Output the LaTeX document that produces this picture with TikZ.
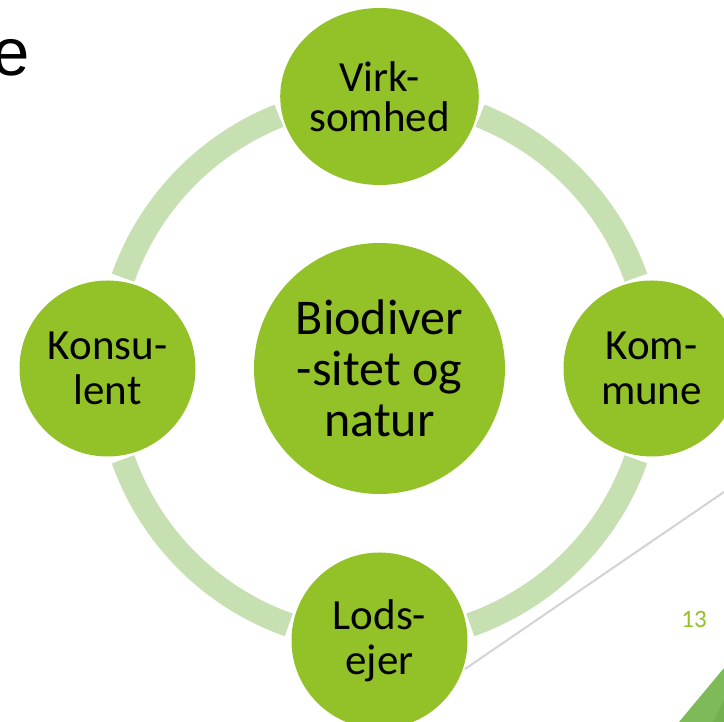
\documentclass[tikz,border=0pt]{standalone}
\usepackage{fontspec}
\setmainfont{Carlito}
\newfontfamily\titlefont{Liberation Sans}
\usetikzlibrary{shapes.geometric}
\definecolor{leafgreen}{HTML}{92C128}
\definecolor{ringgreen}{HTML}{C6E0B2}
\definecolor{slidegreen}{HTML}{7FBA59}
\definecolor{slidegreendark}{HTML}{74B04E}
\definecolor{rulegray}{HTML}{D3D3D3}
\tikzstyle{actor}=[circle, fill=leafgreen, inner sep=0pt, minimum size=176pt, align=center, font=\fontsize{43}{45}\selectfont]
\tikzstyle{core}=[actor, minimum size=251pt, font=\fontsize{50}{51}\selectfont]
\tikzstyle{ring}=[draw=ringgreen, line width=24pt]
\newcommand{\actor}{\node[actor]}

\begin{document}
\begin{tikzpicture}[x=1pt, y=1pt]
\clip (0,0) rectangle (724,722);
% slide decoration
\fill[slidegreen] (679,0) -- (724,54) -- (724,0) -- cycle;
\fill[slidegreendark] (713,0) -- (724,22) -- (724,0) -- cycle;
\draw[rulegray, line width=2pt] (465,53) -- (724,230);
\node[anchor=base east, inner sep=0pt, font=\titlefont\fontsize{67}{67}\selectfont] (title) at (30,646) {e};
\node[anchor=base, inner sep=0pt, text=leafgreen, font=\fontsize{25}{25}\selectfont] (page) at (694,94) {13};
% circles
\node[core] (bio) at (379.5,353.5) {Biodiver\\-sitet og\\natur};
\node[actor, ellipse, minimum width=198pt, minimum height=177pt, font=\fontsize{43}{40}\selectfont] (virk) at (379.5,625.5) {Virk-\\somhed};
\actor (komm) at (651.5,353.5) {Kom-\\mune};
\actor (lods) at (379.5,81.5) {Lods-\\ejer};
\actor (konsu) at (107.5,353.5) {Konsu-\\lent};
% ring between the actors
\foreach \a/\b in {19.5/68.3, 111.7/160.5, 199.5/250.5, 289.5/340.5}
  \draw[ring] ([shift={(\a:272)}]bio.center) arc[start angle=\a, end angle=\b, radius=272];
\end{tikzpicture}
\end{document}
